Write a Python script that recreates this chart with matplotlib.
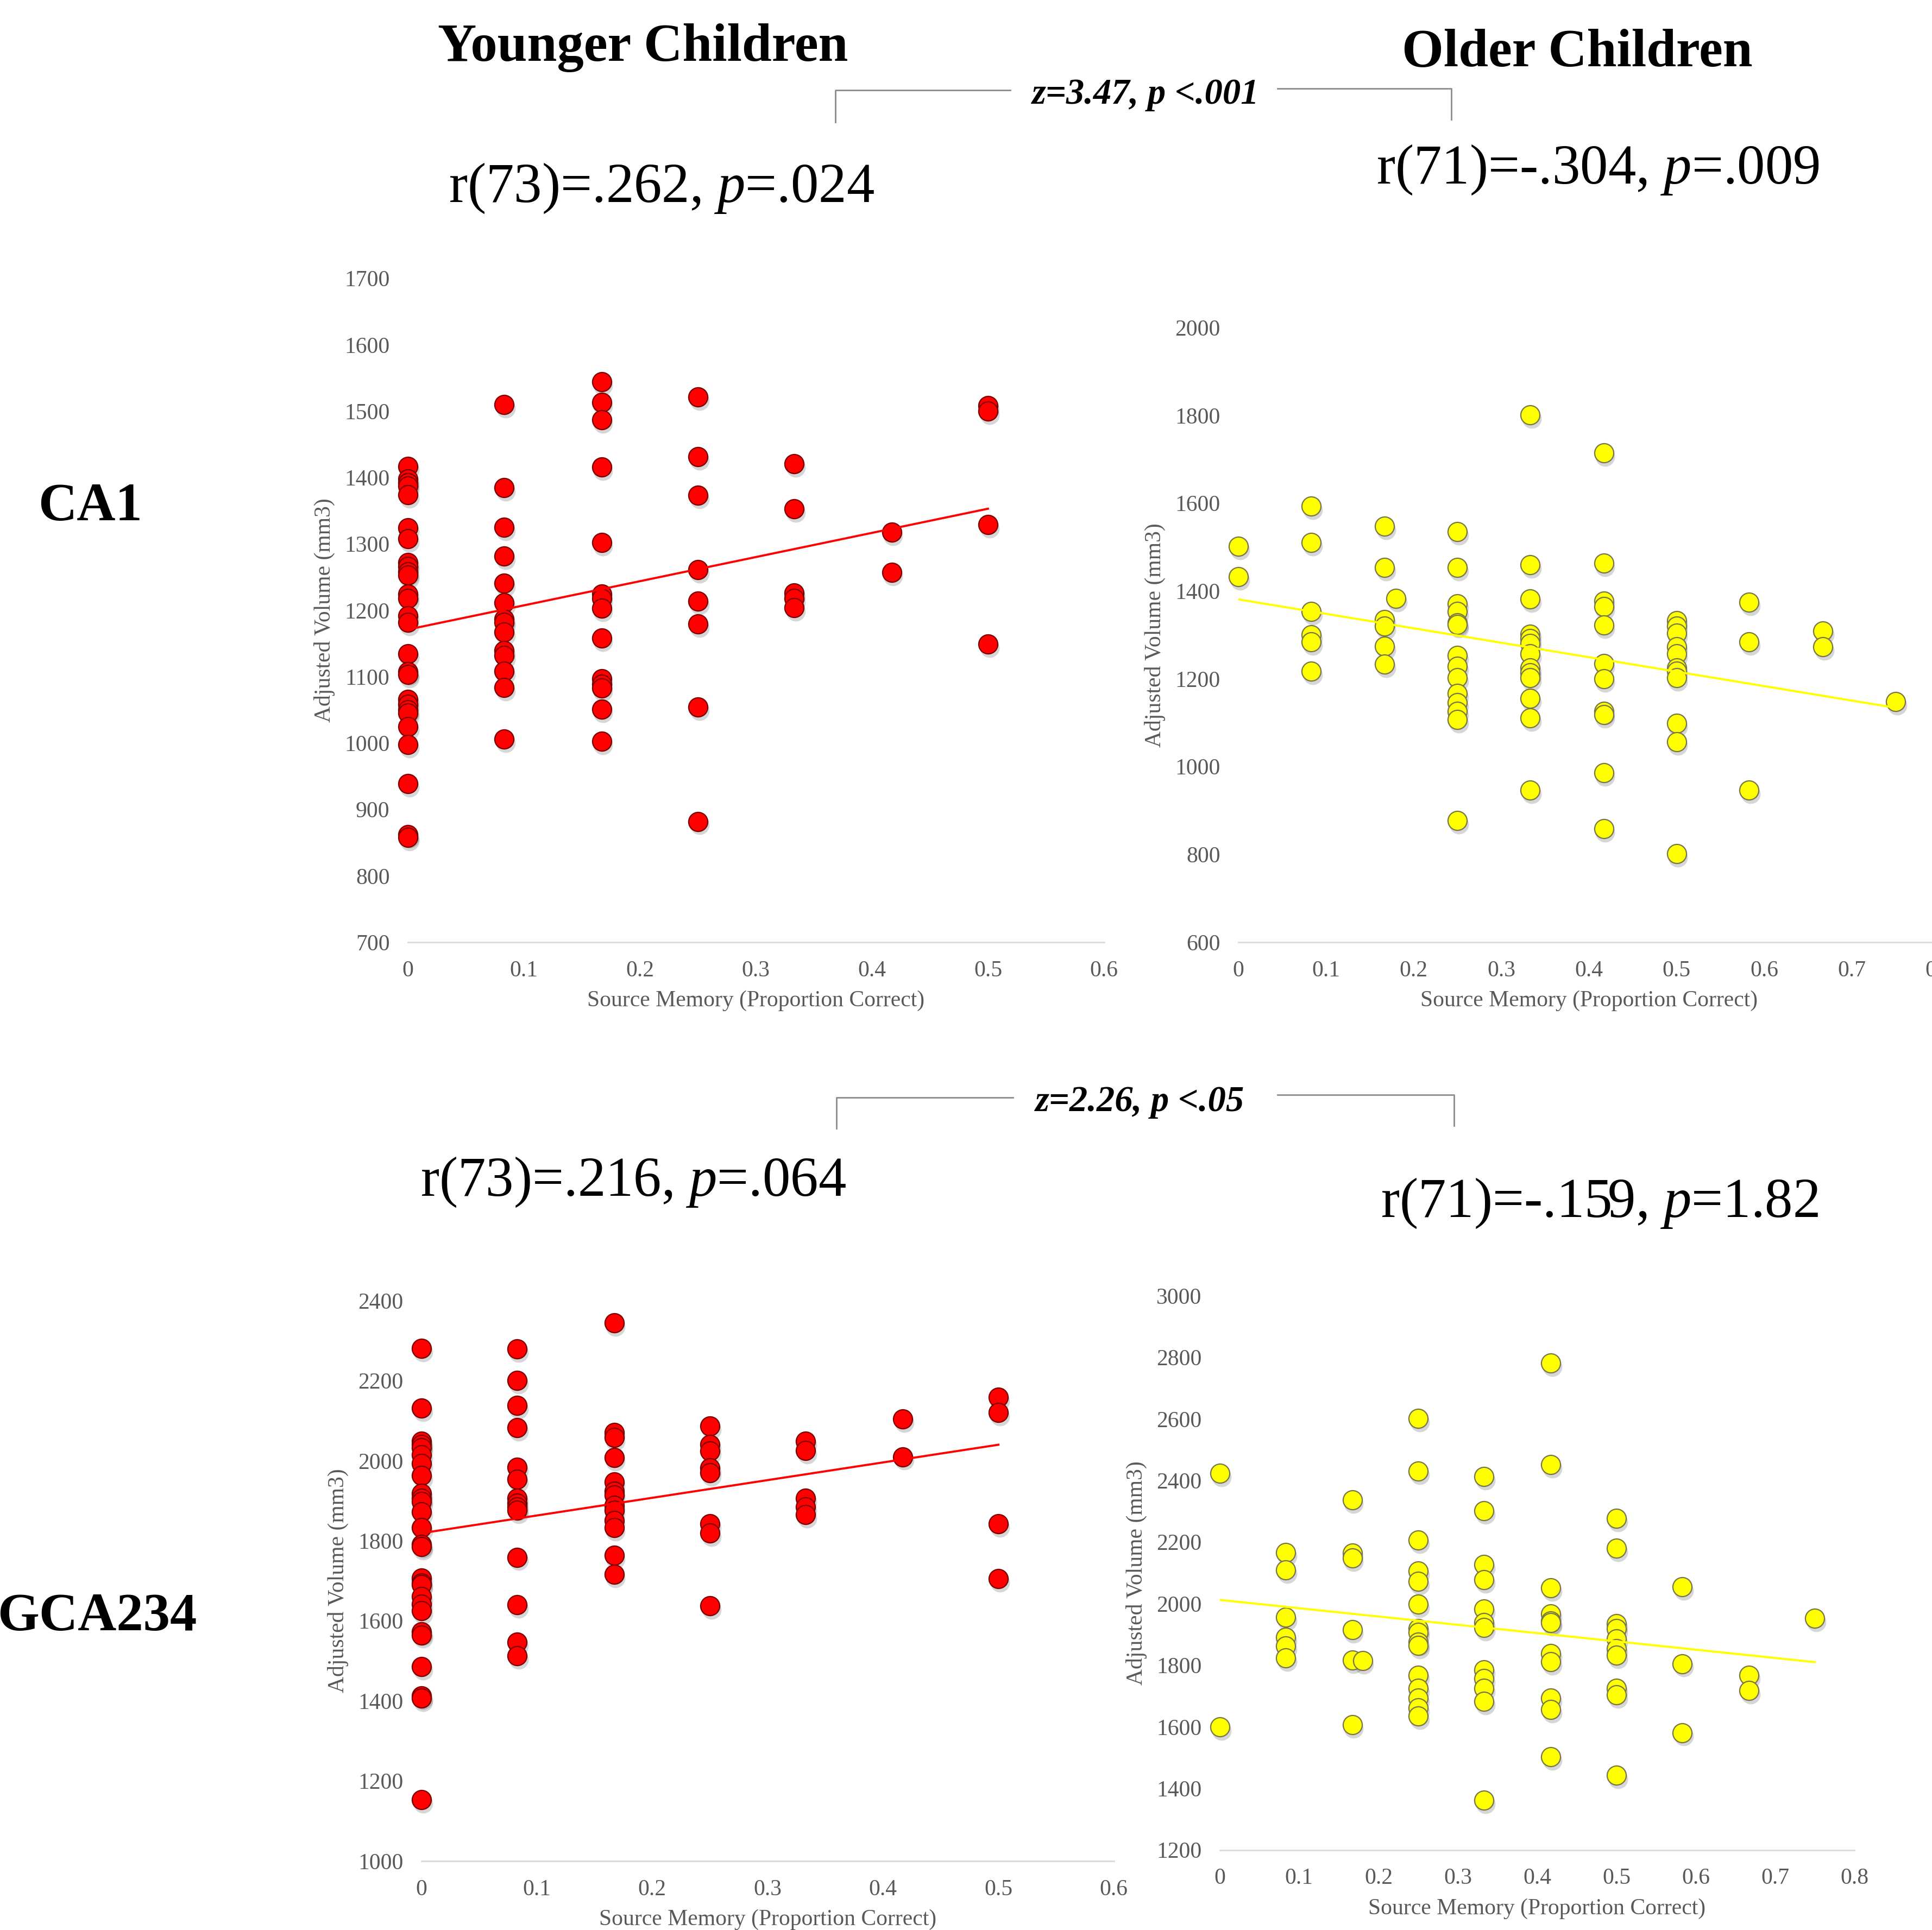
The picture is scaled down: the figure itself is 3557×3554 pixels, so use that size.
import matplotlib
matplotlib.use("Agg")
import matplotlib.pyplot as plt
from matplotlib.lines import Line2D
from matplotlib.ticker import FuncFormatter
from matplotlib.transforms import offset_copy

plt.rcParams['font.family'] = ['Liberation Serif', 'DejaVu Serif']
plt.rcParams['mathtext.fontset'] = 'custom'
plt.rcParams['mathtext.rm'] = 'Liberation Serif'
plt.rcParams['mathtext.it'] = 'Liberation Serif:italic'
plt.rcParams['mathtext.bf'] = 'Liberation Serif:bold'

# --- data ---
# source memory levels (x) and adjusted volumes (y) per level
young_levels = [0, 0.083, 0.167, 0.25, 0.333, 0.417, 0.5]
old_levels = [0, 0.083, 0.167, 0.18, 0.25, 0.333, 0.417, 0.5, 0.583, 0.667, 0.75]

ca1_young = [
    [1417, 1398, 1392, 1387, 1374, 1324, 1308, 1272, 1266, 1258, 1253, 1224, 1218, 1192,
     1182, 1134, 1107, 1103, 1066, 1058, 1050, 1045, 1025, 998, 939, 862, 858],
    [1510, 1385, 1325, 1282, 1241, 1211, 1187, 1182, 1167, 1139, 1132, 1108, 1084, 1006],
    [1544, 1513, 1487, 1416, 1302, 1224, 1218, 1203, 1158, 1097, 1089, 1083, 1051, 1003],
    [1521, 1431, 1373, 1261, 1214, 1179, 1054, 882],
    [1421, 1353, 1226, 1218, 1204],
    [1318, 1257],
    [1508, 1500, 1329, 1149],
]
ca1_old = [
    [1502, 1432],
    [1593, 1510, 1353, 1300, 1284, 1217],
    [1548, 1453, 1335, 1320, 1274, 1233],
    [1383],
    [1535, 1453, 1371, 1353, 1328, 1324, 1253, 1229, 1202, 1166, 1146, 1126, 1107, 877],
    [1801, 1460, 1382, 1302, 1292, 1281, 1257, 1225, 1213, 1202, 1156, 1111, 946],
    [1715, 1464, 1377, 1364, 1323, 1235, 1200, 1126, 1118, 986, 858],
    [1332, 1320, 1304, 1273, 1257, 1225, 1217, 1202, 1099, 1057, 802],
    [1374, 1284, 946],
    [1309, 1273],
    [1148],
]
gca_young = [
    [2281, 2132, 2049, 2041, 2032, 2015, 1993, 1963, 1919, 1906, 1898, 1872, 1833, 1791,
     1785, 1707, 1694, 1690, 1660, 1642, 1625, 1573, 1565, 1485, 1413, 1407, 1153],
    [2279, 2201, 2138, 2082, 1984, 1954, 1906, 1894, 1885, 1876, 1759, 1640, 1547, 1513],
    [2344, 2071, 2058, 2008, 1947, 1924, 1915, 1889, 1876, 1850, 1833, 1764, 1716],
    [2086, 2041, 2024, 1982, 1970, 1842, 1820, 1638],
    [2049, 2025, 1906, 1885, 1866],
    [2104, 2010],
    [2159, 2120, 1842, 1705],
]
gca_old = [
    [2424, 1600],
    [2166, 2110, 1955, 1891, 1862, 1824],
    [2337, 2164, 2148, 1916, 1816, 1607],
    [1814],
    [2602, 2431, 2206, 2105, 2073, 1998, 1918, 1907, 1875, 1864, 1768, 1725, 1693, 1661, 1634],
    [2412, 2301, 2127, 2078, 1982, 1939, 1923, 1784, 1757, 1725, 1682, 1362],
    [2782, 2452, 2051, 1966, 1944, 1939, 1837, 1811, 1693, 1656, 1503],
    [2276, 2180, 1934, 1918, 1886, 1853, 1832, 1725, 1704, 1442],
    [2055, 1805, 1581],
    [1768, 1717],
    [1952],
]

# trend line end points
ca1_young_line = ([0, 0.5], [1171, 1353])
ca1_old_line = ([0, 0.75], [1381, 1134])
gca_young_line = ([0, 0.5], [1819, 2040])
gca_old_line = ([0, 0.75], [2012, 1810])

young_xticks = [0, 0.1, 0.2, 0.3, 0.4, 0.5, 0.6]
old_xticks = [0, 0.1, 0.2, 0.3, 0.4, 0.5, 0.6, 0.7, 0.8]
ca1_young_yticks = [700, 800, 900, 1000, 1100, 1200, 1300, 1400, 1500, 1600, 1700]
ca1_old_yticks = [600, 800, 1000, 1200, 1400, 1600, 1800, 2000]
gca_young_yticks = [1000, 1200, 1400, 1600, 1800, 2000, 2200, 2400]
gca_old_yticks = [1200, 1400, 1600, 1800, 2000, 2200, 2400, 2600, 2800, 3000]

# --- layout (reference grid 1568 x 1567) ---
W, H = 1568, 1567
fig = plt.figure(figsize=(3557 / 200, 3554 / 200), dpi=200)
fig.patch.set_facecolor('white')


def fx(px):
    return px / W


def fy(py):
    return 1 - py / H


def rect(left, top, right, bottom):
    return [fx(left), fy(bottom), (right - left) / W, (bottom - top) / H]


GRAY = '#595959'


def panel(box, levels, vals, line, xticks, yticks, color, edge):
    ax = fig.add_axes(box)
    xs, ys = [], []
    for lv, col in zip(levels, vals):
        xs += [lv] * len(col)
        ys += col
    # soft drop shadow under each ball
    shadow = offset_copy(ax.transData, fig=fig, x=1.0, y=-2.5, units='points')
    ax.scatter(xs, ys, s=165, color='0.2', alpha=0.2, linewidths=0,
               transform=shadow, zorder=2, clip_on=False)
    ax.scatter(xs, ys, s=160, c=color, edgecolors=edge, linewidths=0.8,
               zorder=3, clip_on=False)
    ax.plot(line[0], line[1], color=color, lw=1.4, zorder=4)
    ax.set_xlim(xticks[0], xticks[-1])
    ax.set_ylim(yticks[0], yticks[-1])
    ax.set_xticks(xticks)
    ax.set_yticks(yticks)
    ax.xaxis.set_major_formatter(FuncFormatter(lambda v, _: f'{v:g}'))
    for s in ['top', 'right', 'left']:
        ax.spines[s].set_visible(False)
    ax.spines['bottom'].set_color('#d9d9d9')
    ax.spines['bottom'].set_linewidth(1.0)
    ax.tick_params(length=0, labelsize=15, colors=GRAY, pad=12)
    ax.set_xlabel('Source Memory (Proportion Correct)', fontsize=15, color=GRAY, labelpad=6)
    ax.set_ylabel('Adjusted Volume (mm3)', fontsize=15, color=GRAY, labelpad=6)
    ax.patch.set_alpha(0)
    return ax


panel(rect(331, 226, 896, 765), young_levels, ca1_young, ca1_young_line,
      young_xticks, ca1_young_yticks, '#ff0000', '#7a0000')
panel(rect(1005, 266, 1574, 765), old_levels, ca1_old, ca1_old_line,
      old_xticks, ca1_old_yticks, '#ffff00', '#77764a')
panel(rect(342, 1056, 904, 1511), young_levels, gca_young, gca_young_line,
      young_xticks, gca_young_yticks, '#ff0000', '#7a0000')
panel(rect(990, 1052, 1505, 1502), old_levels, gca_old, gca_old_line,
      old_xticks, gca_old_yticks, '#ffff00', '#77764a')

# --- headings and statistics ---
fig.text(fx(522), fy(39), 'Younger Children', ha='center', va='center',
         fontsize=35.5, fontweight='bold')
fig.text(fx(1280), fy(43), 'Older Children', ha='center', va='center',
         fontsize=35.5, fontweight='bold')
fig.text(fx(73), fy(412), 'CA1', ha='center', va='center', fontsize=35.5, fontweight='bold')
fig.text(fx(79), fy(1313), 'GCA234', ha='center', va='center', fontsize=35.5, fontweight='bold')

fig.text(fx(537), fy(153), 'r(73)=.262, $p$=.024', ha='center', va='center', fontsize=37)
fig.text(fx(1297), fy(138), 'r(71)=-.304, $p$=.009', ha='center', va='center', fontsize=37)
fig.text(fx(514), fy(960), 'r(73)=.216, $p$=.064', ha='center', va='center', fontsize=37)
fig.text(fx(1298), fy(977), 'r(71)=-.159, $p$=1.82', ha='center', va='center', fontsize=37)

fig.text(fx(930), fy(77), 'z=3.47, p <.001', ha='center', va='center',
         fontsize=24, fontweight='bold', fontstyle='italic')
fig.text(fx(925), fy(895), 'z=2.26, p <.05', ha='center', va='center',
         fontsize=24, fontweight='bold', fontstyle='italic')

# comparison brackets
br = dict(color='#8c8c8c', lw=1.0)
fig.add_artist(Line2D([fx(678), fx(678), fx(820)], [fy(99), fy(73), fy(73)], **br))
fig.add_artist(Line2D([fx(1037), fx(1178), fx(1178)], [fy(72), fy(72), fy(97)], **br))
fig.add_artist(Line2D([fx(679), fx(679), fx(822)], [fy(916), fy(891), fy(891)], **br))
fig.add_artist(Line2D([fx(1037), fx(1180), fx(1180)], [fy(889), fy(889), fy(914)], **br))

fig.savefig('out.png', dpi=200, facecolor='white')
